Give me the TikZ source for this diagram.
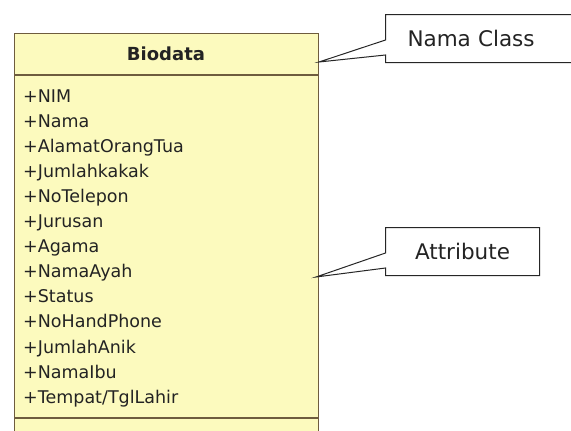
\documentclass[tikz,border=0pt]{standalone}
\usepackage{fontspec}
\setmainfont{DejaVu Sans}
\usepackage{xcolor}
\usetikzlibrary{shapes.callouts,positioning,calc}
\definecolor{classfill}{RGB}{252,250,190}
\definecolor{classedge}{RGB}{110,92,62}
\definecolor{textgray}{RGB}{35,35,35}

\begin{document}
\begin{tikzpicture}[
			x=1pt, y=-1pt,
			classbox/.style={rectangle, draw=classedge, fill=classfill, line width=1.3pt, minimum width=304pt, minimum height=412pt, anchor=north west, inner sep=0pt},
			title/.style={font=\fontsize{18}{20}\selectfont\bfseries, text=textgray, inner sep=0pt},
			attr/.style={anchor=base west, inner sep=0pt, font=\fontsize{17.5}{19}\selectfont, text=textgray},
			sep/.style={draw=classedge, line width=1.3pt},
			note/.style={rectangle callout, draw=black!85, fill=white, line width=1pt, minimum height=48pt, inner sep=0pt, anchor=north west, font=\fontsize{21.5}{24}\selectfont, text=textgray, callout pointer width=15pt}
			]
			
			% page
			\useasboundingbox (0,0) rectangle (571,431);
			
			% class box
			\node[classbox] (cls) at (14,33) {};
			\node[title] (clsname) at (166,54) {Biodata};
			\draw[sep] ($(cls.north west)+(0,42)$) -- ($(cls.north east)+(0,42)$);
			\draw[sep] ($(cls.north west)+(0,385)$) -- ($(cls.north east)+(0,385)$);
			
			% attributes
			\foreach \name [count=\i from 0] in {+NIM, +Nama, +AlamatOrangTua, +Jumlahkakak, +NoTelepon, +Jurusan, +Agama, +NamaAyah, +Status, +NoHandPhone, +JumlahAnik, +NamaIbu, +Tempat/TglLahir}
				\node[attr] (a\i) at (23,102+25.1*\i) {\name};
			
			% callouts
			\coordinate (tipname) at (319,62);
			\coordinate (tipattr) at (316,277);
			\node[note, minimum width=264pt, text width=220pt, align=left, inner xsep=22pt, callout absolute pointer={(tipname)}] (notename) at (385,14) {Nama Class};
			\node[note, minimum width=154pt, callout absolute pointer={(tipattr)}] (noteattr) at (385,227) {Attribute};
			
		\end{tikzpicture}
\end{document}
